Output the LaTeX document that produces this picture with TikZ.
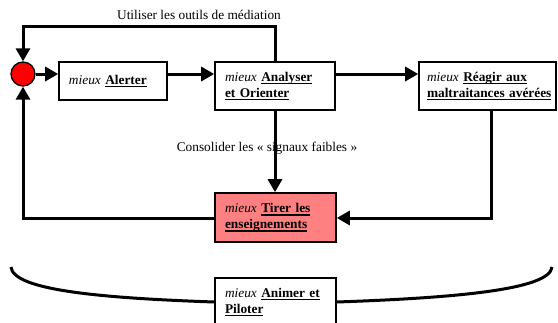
\documentclass[tikz,border=0pt]{standalone}
\usepackage{fontspec}
\setmainfont{Liberation Serif}
\usetikzlibrary{arrows.meta,calc}
\newsavebox{\myulbox}
\newcommand{\myul}[1]{\sbox{\myulbox}{#1}\rlap{\usebox{\myulbox}}\rule[-2.3pt]{\wd\myulbox}{0.9pt}}
\definecolor{tirerfill}{HTML}{FF8080}
\tikzset{
  box/.style={draw, line width=1.2pt, align=left, inner xsep=7.5pt, inner ysep=0pt,
    font=\fontsize{10}{12}\selectfont},
  conn/.style={line width=2.25pt},
  arr/.style={conn, -{Triangle[length=9.75pt,width=10.5pt]}},
  lbl/.style={font=\fontsize{10}{12}\selectfont, inner sep=0pt}
}
\begin{document}
\begin{tikzpicture}[x=0.75pt, y=-0.75pt]
\useasboundingbox (0,0) rectangle (558,322);
\clip (0,0) rectangle (558,322);
\fill[white] (0,0) rectangle (558,322);

\node[circle, draw, fill=red, line width=1pt, minimum size=18pt, inner sep=0pt] (circ) at (23,74) {};

\node[box, text width=66pt, minimum height=28.5pt] (alerter) at (113,81)
  {\textit{mieux} \textbf{\myul{Alerter}}};
\node[box, text width=75pt, minimum height=36pt] (analyser) at (275,86)
  {\textit{mieux} \textbf{\myul{Analyser}}\\\textbf{\myul{et Orienter}}};
\node[box, inner xsep=6pt, text width=90.75pt, minimum height=36pt] (reagir) at (487.5,86)
  {\textit{mieux} \textbf{\myul{Réagir aux}}\\\textbf{\myul{maltraitances avérées}}};
\node[box, fill=tirerfill, text width=75.75pt, minimum height=36.75pt] (tirer) at (275.5,217.5)
  {\textit{mieux} \textbf{\myul{Tirer les}}\\\textbf{\myul{enseignements}}};
\node[box, text width=75.75pt, minimum height=36pt] (animer) at (275.5,302)
  {\textit{mieux} \textbf{\myul{Animer et}}\\\textbf{\myul{Piloter}}};

\node[lbl] (utiliser) at (199,15) {Utiliser les outils de médiation};
\node[lbl] (consolider) at (267,148) {Consolider les « signaux faibles »};

\coordinate (toploop) at (23,26);
\coordinate (rd) at (491,218);
\coordinate (ld) at (23,218);
\coordinate (lend) at (11,267);
\coordinate (rend) at (552,267);

% top loop
\draw[arr] (analyser.north) |- (toploop) -- (circ.north);
% forward chain
\draw[arr] (circ.east) -- (alerter.west |- circ);
\draw[arr] (alerter.east |- circ) -- (analyser.west |- circ);
\draw[arr] (analyser.east |- circ) -- (reagir.west |- circ);
% down from analyser
\draw[arr] (analyser.south) -- (analyser.south |- tirer.north);
% from reagir to tirer
\draw[arr] (reagir.south -| rd) -- (rd) -- (tirer.east |- rd);
% left loop
\draw[arr] (tirer.west |- ld) -- (ld) -- (circ.south);
% brace curves
\draw[conn] (lend) .. controls +(2,23) and +(-115,-4) .. (animer.west);
\draw[conn] (animer.east) .. controls +(115,-4) and +(-2,23) .. (rend);
\end{tikzpicture}
\end{document}
